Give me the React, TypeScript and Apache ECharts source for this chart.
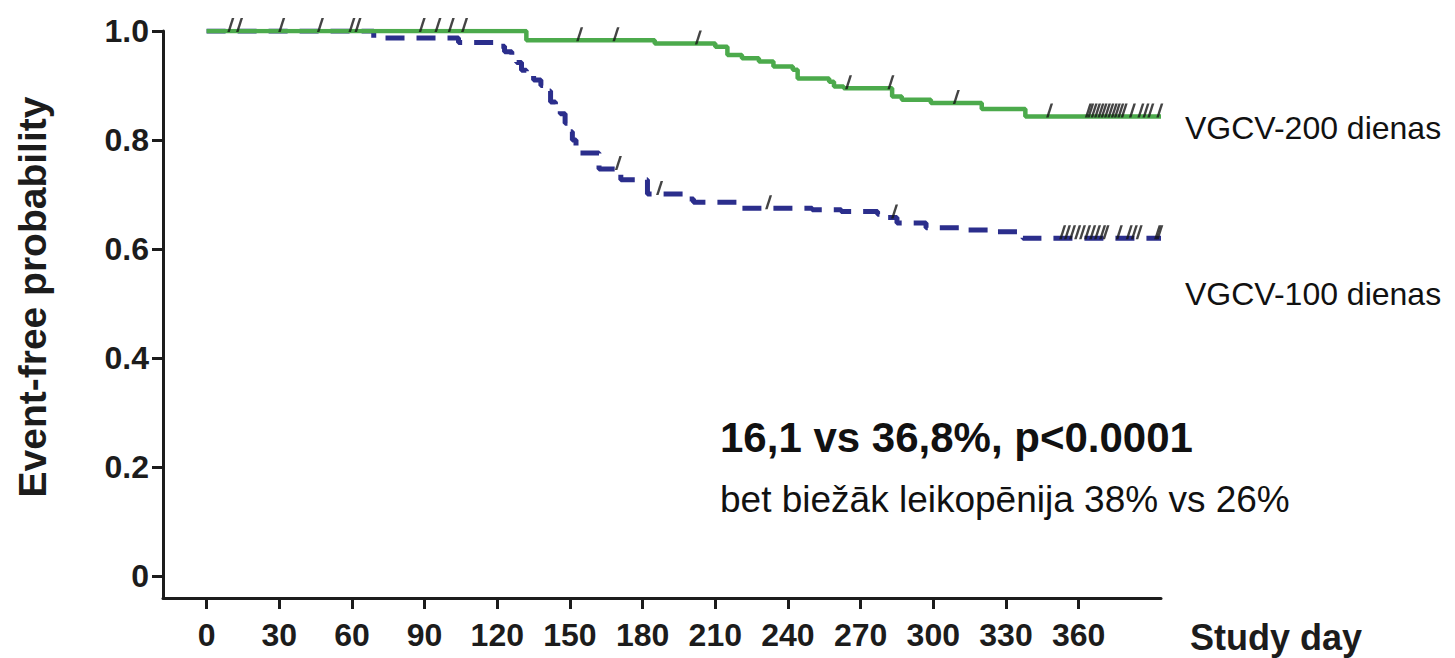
import { useEffect, useRef } from "react";
import * as echarts from "echarts";

// ---------- data ----------
const xTicks = [0, 30, 60, 90, 120, 150, 180, 210, 240, 270, 300, 330, 360];
const yTicks = [0, 0.2, 0.4, 0.6, 0.8, 1.0];

const seriesNames = ["VGCV-200 dienas", "VGCV-100 dienas"];

// VGCV-200 (green, solid): step start day and event-free probability from that day on
const days200 = [0, 132, 185, 210, 215, 221, 228, 234, 242, 244, 257, 259, 263, 283, 287, 299, 320, 338, 394];
const prob200 = [1.0, 0.983, 0.977, 0.971, 0.956, 0.95, 0.944, 0.935, 0.929, 0.913, 0.907, 0.898, 0.895, 0.88, 0.874, 0.868, 0.857, 0.843, 0.843];

// VGCV-100 (blue, dashed)
const days100 = [0, 69, 104, 120, 123, 126, 128, 130, 132, 135, 138, 140, 142, 144, 146, 148, 149.5, 151, 152.5, 154, 162, 171, 182, 198, 201, 219, 250, 262, 277, 281, 285, 297, 311, 325, 337, 394];
const prob100 = [1.0, 0.987, 0.979, 0.972, 0.962, 0.952, 0.942, 0.928, 0.921, 0.91, 0.9, 0.89, 0.87, 0.858, 0.848, 0.831, 0.815, 0.8, 0.786, 0.776, 0.747, 0.727, 0.701, 0.692, 0.686, 0.675, 0.672, 0.669, 0.664, 0.658, 0.648, 0.639, 0.635, 0.632, 0.62, 0.62];

// censoring marks (days)
const censor200 = [10, 13.6, 31, 47, 60, 62.5, 89, 95.5, 101, 106.5, 154, 169, 203, 265, 282.5, 309.5, 348, 364, 365, 366.4, 367.8, 369.2, 370.5, 371.9, 373.3, 374.7, 376, 377.4, 378.8, 382.2, 385.7, 387.8, 389.8, 393.5];
const censor100 = [170, 187, 232, 284, 353.4, 355.4, 357.5, 359.6, 361.6, 363.7, 365.8, 367.8, 369.9, 371.3, 376.8, 380.9, 383, 385, 392.6, 393.5];

const xAxisName = "Study day";
const yAxisName = "Event-free probability";
const noteMain = "16,1 vs 36,8%, p<0.0001";
const noteSub = "bet biežāk leikopēnija 38% vs 26%";

// ---------- helpers ----------
const stepValue = (days: number[], probs: number[], d: number) => {
  let v = probs[0];
  for (let i = 0; i < days.length; i++) {
    if (days[i] <= d) v = probs[i];
  }
  return v;
};

const FONT = "'Liberation Sans', Arial, Helvetica, sans-serif";
const INK = "#1c1c1c";
const GREEN = "#4caa4c";
const BLUE = "#2b2e8c";
const SLASH = "path://M4.5,0 L7,0 L2.5,14 L0,14 Z";

export default function App() {
  const ref = useRef<HTMLDivElement>(null);

  useEffect(() => {
    document.body.style.margin = "0";
    if (!ref.current) return;
    const chart = echarts.init(ref.current, undefined, { renderer: "svg" });

    const option: any = {
      animation: false,
      backgroundColor: "#ffffff",
      grid: { left: 163, right: 294, top: 31, bottom: 60, containLabel: false },
      xAxis: {
        type: "value",
        min: -18,
        max: 394,
        splitLine: { show: false },
        axisLine: { show: true, onZero: false, lineStyle: { color: INK, width: 3 } },
        axisTick: { show: true, length: 11, customValues: xTicks, lineStyle: { color: INK, width: 3 } },
        axisLabel: {
          customValues: xTicks,
          fontSize: 32,
          fontWeight: "bold",
          fontFamily: FONT,
          color: INK,
          margin: 21,
        },
      },
      yAxis: {
        type: "value",
        min: -0.04,
        max: 1.0,
        splitLine: { show: false },
        axisLine: { show: true, onZero: false, lineStyle: { color: INK, width: 3 } },
        axisTick: { show: true, length: 11, customValues: yTicks, lineStyle: { color: INK, width: 3 } },
        axisLabel: {
          customValues: yTicks,
          fontSize: 32,
          fontWeight: "bold",
          fontFamily: FONT,
          color: INK,
          margin: 14,
          formatter: (v: number) => (v === 0 ? "0" : v.toFixed(1)),
        },
      },
      series: [
        {
          name: seriesNames[1],
          type: "line",
          step: "end",
          symbol: "none",
          data: days100.map((d, i) => [d, prob100[i]]),
          lineStyle: { color: BLUE, width: 5, type: [19, 12], cap: "butt" },
          z: 2,
        },
        {
          name: seriesNames[0],
          type: "line",
          step: "end",
          symbol: "none",
          data: days200.map((d, i) => [d, prob200[i]]),
          lineStyle: { color: GREEN, width: 4.5 },
          z: 3,
        },
        {
          type: "scatter",
          data: censor100.map((d) => [d, stepValue(days100, prob100, d)]),
          symbol: SLASH,
          symbolSize: [7, 14],
          symbolOffset: [0, -6],
          itemStyle: { color: "#151515" },
          z: 4,
          silent: true,
        },
        {
          type: "scatter",
          data: censor200.map((d) => [d, stepValue(days200, prob200, d)]),
          symbol: SLASH,
          symbolSize: [7, 14],
          symbolOffset: [0, -6],
          itemStyle: { color: "#151515" },
          z: 4,
          silent: true,
        },
      ],
      graphic: [
        {
          type: "text",
          x: 32,
          y: 297,
          rotation: Math.PI / 2,
          style: { text: yAxisName, fontSize: 39, fontWeight: "bold", fontFamily: FONT, fill: INK, align: "center", verticalAlign: "middle" },
        },
        {
          type: "text",
          x: 1190,
          y: 637,
          style: { text: xAxisName, fontSize: 36, fontWeight: "bold", fontFamily: FONT, fill: INK, align: "left", verticalAlign: "middle" },
        },
        {
          type: "text",
          x: 1185,
          y: 128,
          style: { text: seriesNames[0], fontSize: 32, fontFamily: FONT, fill: "#111", align: "left", verticalAlign: "middle" },
        },
        {
          type: "text",
          x: 1185,
          y: 294,
          style: { text: seriesNames[1], fontSize: 32, fontFamily: FONT, fill: "#111", align: "left", verticalAlign: "middle" },
        },
        {
          type: "text",
          x: 720,
          y: 437,
          style: { text: noteMain, fontSize: 42, fontWeight: "bold", fontFamily: FONT, fill: "#111", align: "left", verticalAlign: "middle" },
        },
        {
          type: "text",
          x: 720,
          y: 499,
          style: { text: noteSub, fontSize: 37, fontFamily: FONT, fill: "#111", align: "left", verticalAlign: "middle" },
        },
      ],
    };

    chart.setOption(option);
    return () => chart.dispose();
  }, []);

  return <div ref={ref} style={{ position: "fixed", left: 0, top: 0, width: 1455, height: 658 }} />;
}
